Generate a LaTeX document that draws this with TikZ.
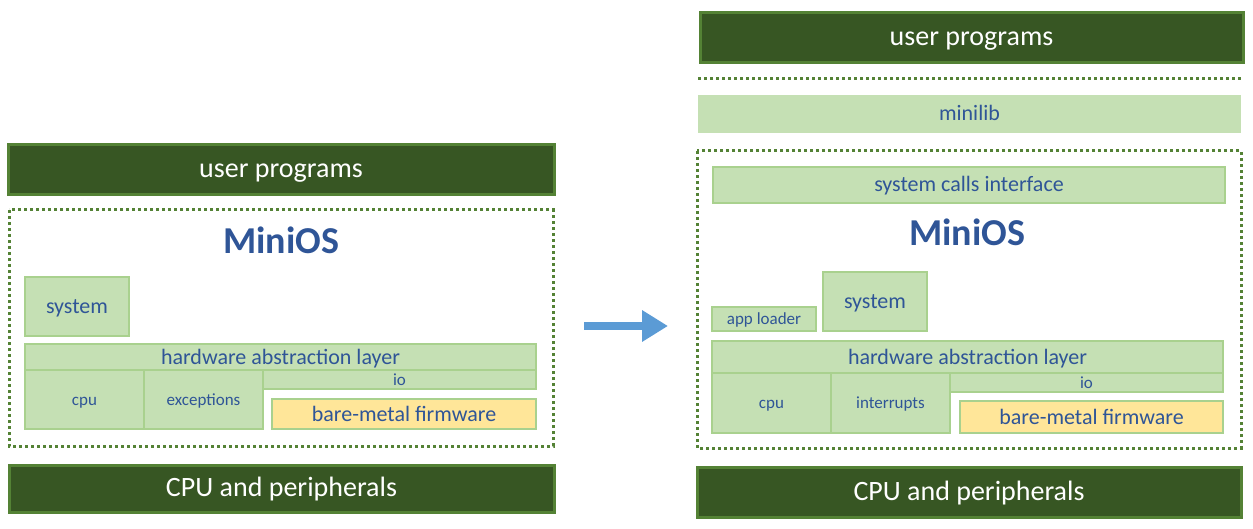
\documentclass[tikz,border=0pt]{standalone}
\usepackage{fontspec}
\setmainfont{Carlito}
\usetikzlibrary{arrows.meta}
\definecolor{vertfonce}{HTML}{375623}
\definecolor{vertbord}{HTML}{548235}
\definecolor{vertclair}{HTML}{C5E0B4}
\definecolor{vertpale}{HTML}{A9D18E}
\definecolor{jaune}{HTML}{FFE699}
\definecolor{bleu}{HTML}{2F5597}
\definecolor{fleche}{HTML}{5B9BD5}
\tikzset{
  taille/.style 2 args={minimum width=#1pt, minimum height=#2pt},
  dur/.style={draw=vertbord, line width=3pt, fill=vertfonce, text=white,
    font=\fontsize{28}{30}\selectfont, inner sep=0pt, text height=16pt, text depth=0pt},
  couche/.style={draw=vertpale, line width=1.2pt, fill=vertclair, text=bleu,
    font=\fontsize{22}{24}\selectfont, inner sep=0pt, text height=14pt, text depth=0pt},
  petit/.style={couche, font=\fontsize{17}{19}\selectfont, text height=11pt},
  firm/.style={couche, fill=jaune},
  cadre/.style={draw=vertbord, line width=3pt, dash pattern=on 3pt off 3pt},
  titre/.style={text=bleu, font=\bfseries\fontsize{38}{40}\selectfont},
}
\begin{document}
\begin{tikzpicture}[x=1pt, y=-1pt]
		\useasboundingbox (0,0) rectangle (1253,529);
		%Noeuds de gauche
		\node[dur, taille={546}{50}] (L1) at (281,170) {user programs};
		\draw[cadre] (9,210) rectangle (553,446);
		\node[titre] (L2) at (281,240) {MiniOS};
		\node[couche, taille={104}{59}] (L3) at (77,306.5) {system};
		\node[couche, taille={511}{26}] (L4) at (280.5,357) {hardware abstraction layer};
		\node[petit, taille={119}{59}] (L5) at (84.5,399.5) {cpu};
		\node[petit, taille={119}{59}] (L6) at (203.5,399.5) {exceptions};
		\node[petit, taille={273}{19}] (L7) at (399.5,379.5) {io};
		\node[firm, taille={264}{30}] (L8) at (404,414) {bare-metal firmware};
		\node[dur, taille={545}{47}] (L9) at (281.5,488.5) {CPU and peripherals};
		%Fleche
		\coordinate (A0) at (584,326);
		\coordinate (A1) at (668,326);
		\draw[fleche, line width=8pt, -{Triangle[length=26pt, width=30pt]}] (A0) -- (A1);
		%Noeuds de droite
		\node[dur, taille={543}{50}] (R1) at (971.5,38) {user programs};
		\draw[cadre] (698,79) -- (1241,79);
		\node[couche, draw=none, taille={543}{38}] (R2) at (969.5,114) {minilib};
		\draw[cadre] (697,151) rectangle (1241,448);
		\node[couche, taille={512}{36}] (R3) at (969,185) {system calls interface};
		\node[titre] (R4) at (967,232) {MiniOS};
		\node[petit, taille={104}{24}] (R5) at (764,319) {app loader};
		\node[couche, taille={104}{59}] (R6) at (875,301.5) {system};
		\node[couche, taille={511}{32}] (R7) at (967.5,357) {hardware abstraction layer};
		\node[petit, taille={119}{60}] (R8) at (771.5,403) {cpu};
		\node[petit, taille={119}{60}] (R9) at (890.5,403) {interrupts};
		\node[petit, taille={273}{19}] (R10) at (1086.5,382.5) {io};
		\node[firm, taille={263}{32}] (R11) at (1091.5,417) {bare-metal firmware};
		\node[dur, taille={544}{50}] (R12) at (969,492) {CPU and peripherals};
	\end{tikzpicture}
\end{document}
